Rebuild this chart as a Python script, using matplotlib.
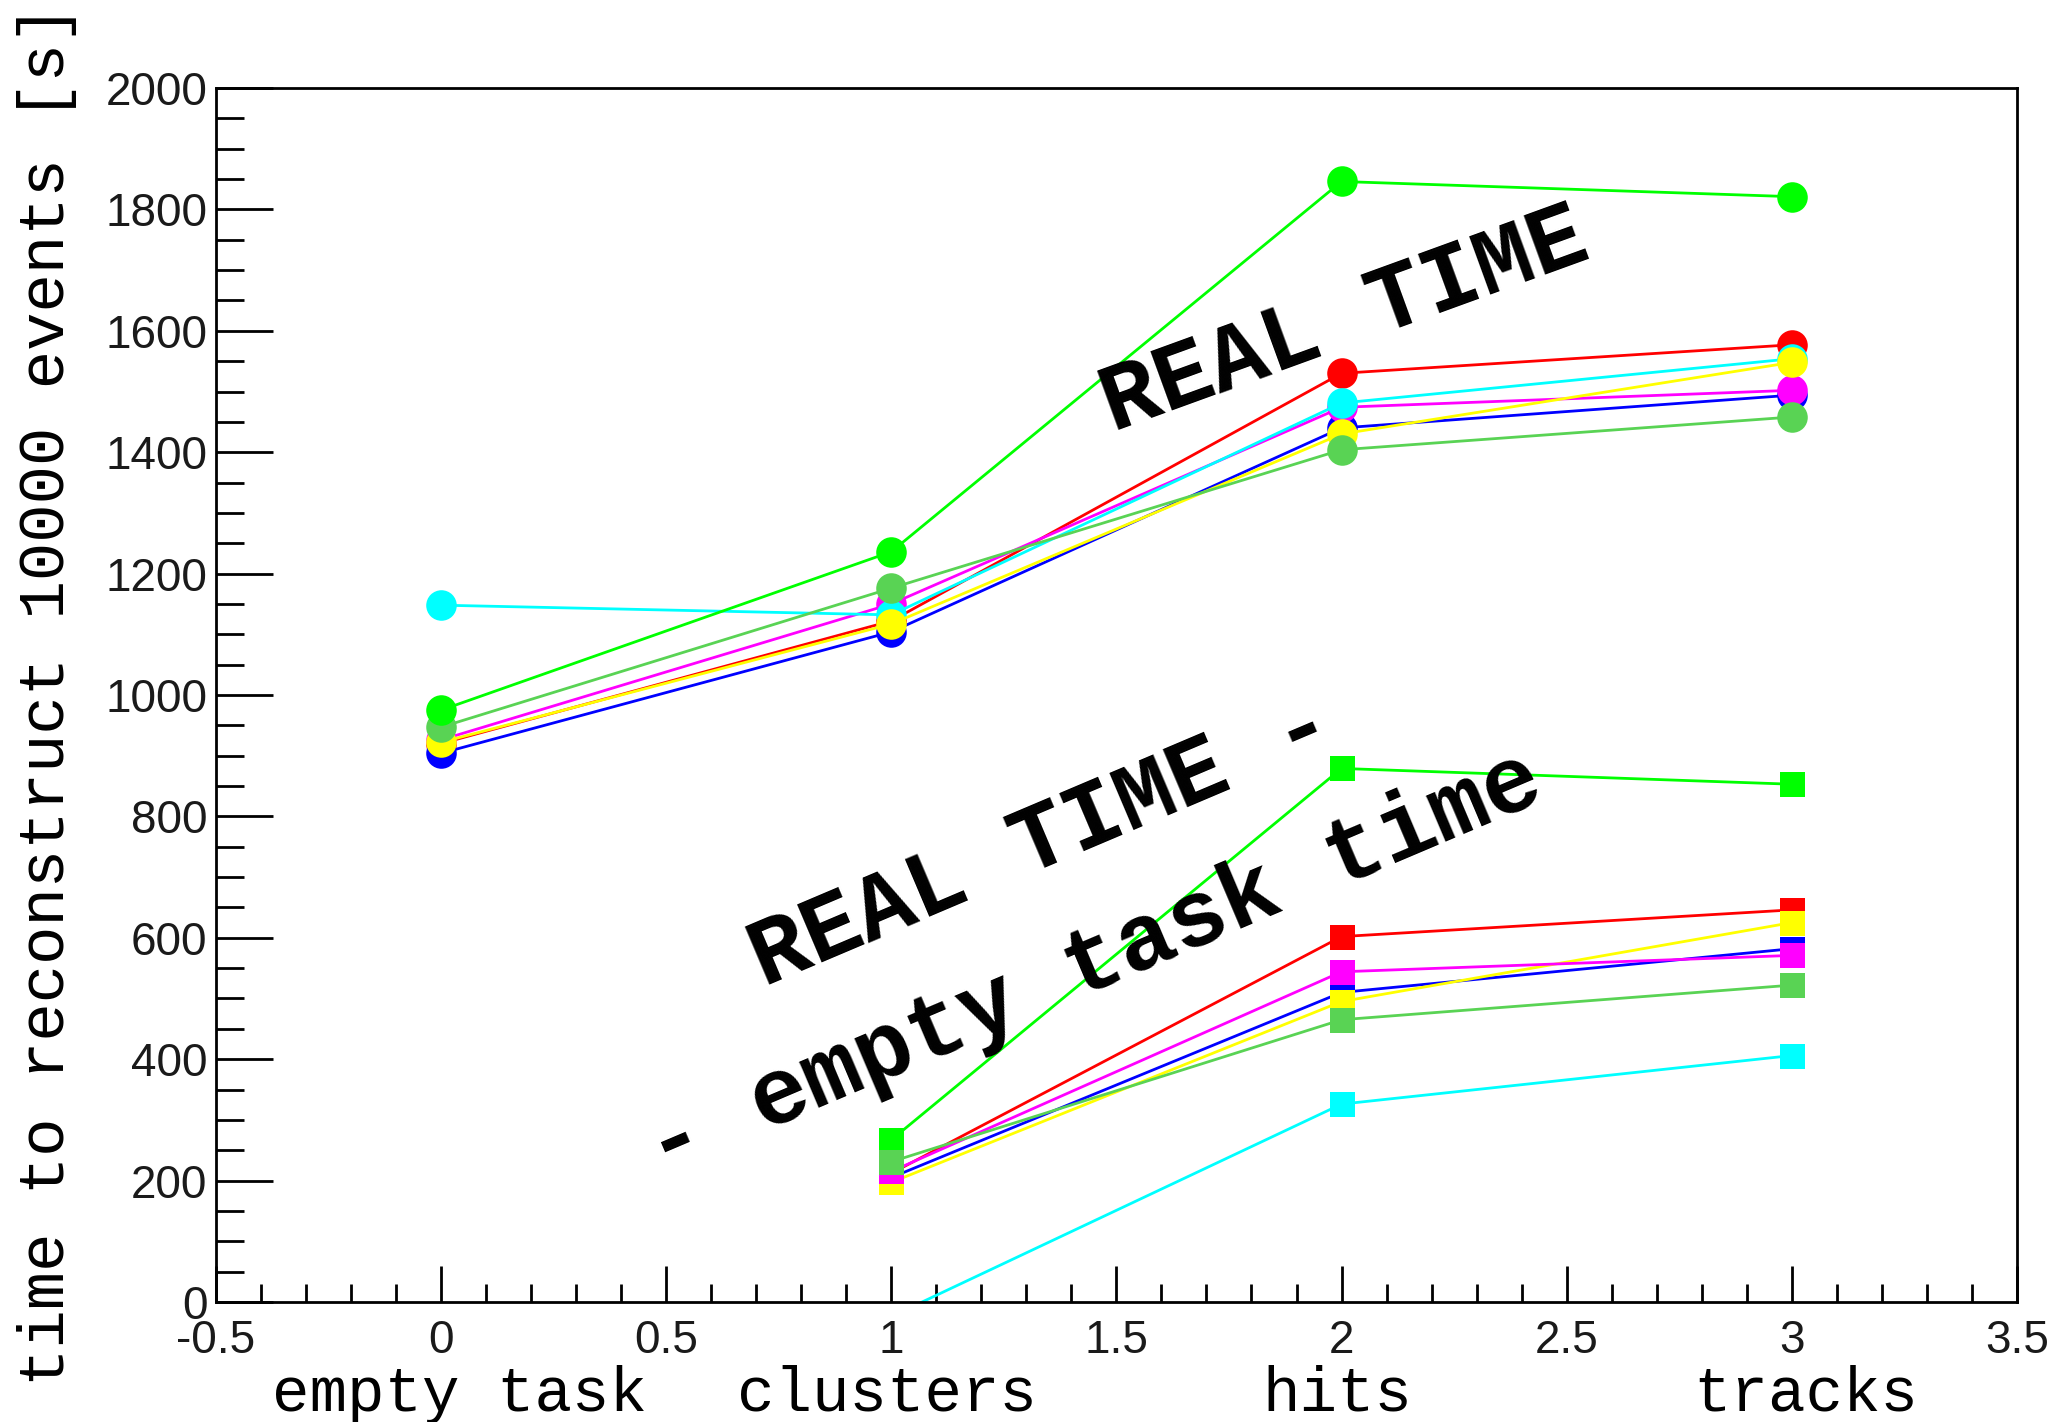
import numpy as np
import matplotlib
matplotlib.use("Agg")
from matplotlib import pyplot as plt
from matplotlib.ticker import MultipleLocator, FuncFormatter

# reconstruction steps
steps = [0, 1, 2, 3]
step_names = ["empty task", "clusters", "hits", "tracks"]

# real time per configuration [s]
real_green = [975, 1236, 1846, 1821]
real_red = [920, 1122, 1530, 1577]
real_cyan = [1148, 1132, 1481, 1554]
real_magenta = [926, 1150, 1474, 1502]
real_blue = [904, 1104, 1440, 1494]
real_yellow = [922, 1117, 1430, 1548]
real_dkgreen = [947, 1176, 1404, 1458]

# real time minus empty task time [s] (steps 1..3)
sub_green = [267, 879, 853]
sub_red = [212, 602, 646]
sub_cyan = [-24, 326, 406]
sub_magenta = [215, 544, 571]
sub_blue = [205, 510, 582]
sub_yellow = [197, 495, 625]
sub_dkgreen = [231, 465, 522]

colors = {"green": "#00ff00", "red": "#ff0000", "cyan": "#00ffff",
          "magenta": "#ff00ff", "blue": "#0000ff", "yellow": "#ffff00",
          "dkgreen": "#59d354"}

real = {"red": real_red, "blue": real_blue, "magenta": real_magenta,
        "cyan": real_cyan, "yellow": real_yellow, "dkgreen": real_dkgreen,
        "green": real_green}
sub = {"red": sub_red, "blue": sub_blue, "yellow": sub_yellow,
       "magenta": sub_magenta, "cyan": sub_cyan, "green": sub_green,
       "dkgreen": sub_dkgreen}

fig = plt.figure(figsize=(20.56, 14.22), dpi=100)
ax = fig.add_axes([0.105, 0.0844, 0.876, 0.8537])

for name, vals in real.items():
    ax.plot(steps, vals, color=colors[name], lw=2, marker="o", ms=22,
            markeredgewidth=0)
for name, vals in sub.items():
    ax.plot(steps[1:], vals, color=colors[name], lw=2, marker="s", ms=18,
            markeredgewidth=0)

ax.set_xlim(-0.5, 3.5)
ax.set_ylim(0, 2000)
ax.xaxis.set_major_locator(MultipleLocator(0.5))
ax.xaxis.set_minor_locator(MultipleLocator(0.1))
ax.yaxis.set_major_locator(MultipleLocator(200))
ax.yaxis.set_minor_locator(MultipleLocator(50))
ax.xaxis.set_major_formatter(FuncFormatter(lambda v, p: "%g" % v))
ax.yaxis.set_major_formatter(FuncFormatter(lambda v, p: "%g" % v))
ax.tick_params(which="both", direction="in", width=2, top=False, right=False)
ax.tick_params(axis="x", which="major", length=26, pad=12)
ax.tick_params(axis="x", which="minor", length=13)
ax.tick_params(axis="y", which="major", length=41, pad=6)
ax.tick_params(axis="y", which="minor", length=20)
for lab in ax.get_xticklabels() + ax.get_yticklabels():
    lab.set_fontfamily("Liberation Sans")
    lab.set_fontsize(33)
    lab.set_color("#1a1a1a")
for sp in ax.spines.values():
    sp.set_linewidth(2)

ax.set_ylabel("time to reconstruct 10000 events [s]", family="Liberation Mono",
              fontsize=46)
ax.yaxis.set_label_coords(-0.077, 0.5)

for x, name in zip(steps, step_names):
    ax.text(x + [0.04, -0.01, -0.01, 0.03][x], -0.076, name,
            transform=ax.get_xaxis_transform(), ha="center", va="center",
            family="Liberation Mono", fontsize=45)

mono_bold = dict(family="Liberation Mono", fontweight="bold", fontsize=68,
                 rotation_mode="anchor", ha="center", va="baseline")
ax.text(2.025, 1578, "REAL TIME", rotation=20, **mono_bold)
ax.text(1.355, 720, "REAL TIME -", rotation=23, **mono_bold)
ax.text(1.47, 518, "- empty task time", rotation=23, **mono_bold)

fig.savefig("out.png", dpi=100)
